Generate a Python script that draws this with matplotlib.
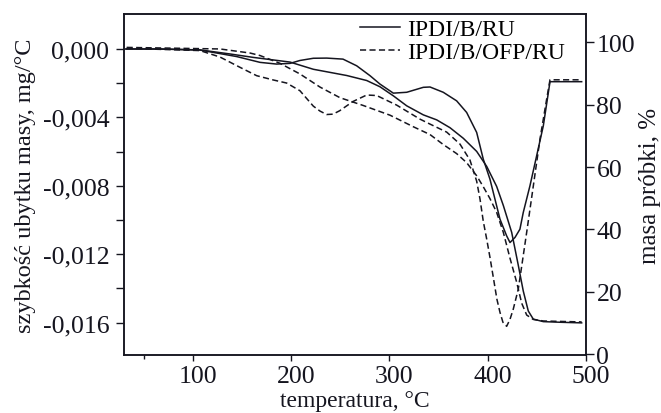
import numpy as np
import matplotlib
matplotlib.use("Agg")
import matplotlib.pyplot as plt
from matplotlib.transforms import ScaledTranslation

plt.rcParams['font.family'] = ['Liberation Serif', 'DejaVu Serif']
plt.rcParams['font.size'] = 18.5

# DTG, IPDI/B/RU (left axis, mg/°C)
t_dtg_a = [32.0, 66.6, 107.3, 144.6, 168.4, 185.3, 198.9, 209.0, 222.6, 236.2,
           252.8, 266.7, 280.3, 290.4, 304.0, 317.6, 334.5, 341.3, 354.8, 368.4,
           378.6, 388.8, 395.5, 402.3, 407.4, 412.5, 419.3, 422.7, 427.8, 432.8,
           436.2, 443.0, 449.8, 456.6, 463.4, 495.6]
dtg_a = [0.0, 0.0, -0.00006, -0.00044, -0.00078, -0.00088, -0.00084, -0.00067, -0.00054, -0.00053,
         -0.00059, -0.00098, -0.00156, -0.00205, -0.00258, -0.00253, -0.00224, -0.00222, -0.00253, -0.00303,
         -0.00371, -0.00488, -0.00644, -0.00761, -0.00878, -0.00995, -0.01093, -0.01132, -0.01102, -0.01054,
         -0.00956, -0.00800, -0.00625, -0.00449, -0.00191, -0.00191]

# DTG, IPDI/B/OFP/RU
t_dtg_b = [32.7, 107.3, 127.7, 148.0, 165.0, 181.9, 195.5, 209.0, 222.6, 229.4,
           236.2, 242.6, 249.4, 262.9, 276.9, 287.1, 307.4, 331.1, 341.3, 358.3,
           371.8, 382.0, 388.8, 392.2, 395.5, 399.0, 402.3, 405.7, 409.4, 412.5,
           415.5, 419.3, 422.7, 426.0, 431.1, 434.9, 439.7, 446.4, 453.2, 460.0,
           463.4, 495.6]
dtg_b = [0.00004, -0.00009, -0.00047, -0.00107, -0.00156, -0.00181, -0.00199, -0.00244, -0.00334, -0.00363,
         -0.00383, -0.00381, -0.00361, -0.00307, -0.00269, -0.00272, -0.00328, -0.00410, -0.00439, -0.00486,
         -0.00556, -0.00650, -0.00773, -0.00878, -0.01007, -0.01112, -0.01218, -0.01335, -0.01464, -0.01540,
         -0.01598, -0.01622, -0.01581, -0.01522, -0.01405, -0.01259, -0.01071, -0.00802, -0.00527, -0.00293,
         -0.00180, -0.00180]

# TG, IPDI/B/RU (right axis, %)
t_tg_a = [32.0, 66.6, 107.3, 137.8, 161.5, 198.9, 222.6, 256.6, 276.9, 290.4,
          304.0, 317.6, 334.5, 348.1, 361.6, 375.2, 388.8, 399.0, 409.1, 415.9,
          424.4, 431.1, 436.2, 441.3, 446.4, 456.6, 473.5, 495.6]
tg_a = [97.8, 97.8, 97.5, 96.2, 95.1, 93.6, 91.3, 89.3, 87.7, 85.7,
        82.8, 79.6, 76.7, 75.1, 72.6, 69.2, 65.0, 60.2, 53.8, 47.7,
        39.1, 28.6, 20.3, 13.9, 11.3, 10.5, 10.3, 10.1]

# TG, IPDI/B/OFP/RU
t_tg_b = [32.7, 127.7, 158.2, 168.4, 188.7, 209.0, 229.4, 249.7, 273.4, 300.6,
          324.3, 341.3, 354.8, 368.4, 378.6, 388.8, 395.5, 402.3, 409.1, 415.9,
          422.7, 429.5, 434.6, 439.7, 446.4, 456.6, 495.6]
tg_b = [98.3, 97.8, 96.5, 95.7, 93.2, 89.8, 85.6, 82.2, 79.7, 76.6,
        72.9, 70.4, 67.2, 64.3, 61.4, 57.2, 53.7, 49.9, 45.5, 39.1,
        30.8, 23.1, 16.4, 12.6, 11.2, 10.7, 10.4]

left_ticks = [-0.016, -0.014, -0.012, -0.010, -0.008, -0.006, -0.004, -0.002, 0.000]
left_labels = ['-0,016', '', '-0,012', '', '-0,008', '', '-0,004', '', '0,000']
right_ticks = [0, 20, 40, 60, 80, 100]
x_ticks = [100, 200, 300, 400, 500]

ink = '#15151f'
dash = (4, 2.2)

fig = plt.figure(figsize=(6.61, 4.14), dpi=100)
ax = fig.add_axes([0.1876, 0.140, 0.6989, 0.8238])
ax2 = ax.twinx()

ax.plot(t_dtg_a, dtg_a, color=ink, lw=1.1, label='IPDI/B/RU')
ax.plot(t_dtg_b, dtg_b, color=ink, lw=1.1, dashes=dash, label='IPDI/B/OFP/RU')
ax2.plot(t_tg_a, tg_a, color=ink, lw=1.1)
ax2.plot(t_tg_b, tg_b, color=ink, lw=1.1, dashes=dash)

ax.set_xlim(30, 500)
ax.set_ylim(-0.0179, 0.00205)
ax2.set_ylim(-0.2, 109.0)

ax.set_xticks(x_ticks)
ax.set_xticks([50], minor=True)
ax.set_yticks(left_ticks)
ax.set_yticklabels(left_labels)
ax2.set_yticks(right_ticks)

for s in list(ax.spines.values()) + list(ax2.spines.values()):
    s.set_linewidth(1.1)
    s.set_color(ink)

ax.tick_params(axis='x', which='major', direction='out', length=4, width=1, pad=3, colors=ink)
ax.tick_params(axis='x', which='minor', direction='out', length=3, width=1, colors=ink)
ax.tick_params(axis='y', direction='out', length=5.5, width=1, pad=5, colors=ink)
ax2.tick_params(axis='y', direction='out', length=6, width=1, pad=1.5, colors=ink)

# x tick labels sit a little right of their ticks in the original
shift = ScaledTranslation(5 / 100, 0, fig.dpi_scale_trans)
for lab in ax.get_xticklabels():
    lab.set_transform(lab.get_transform() + shift)

ax.set_xlabel('temperatura, °C', fontsize=17, labelpad=2, color=ink)
ax.set_ylabel('szybkość ubytku masy, mg/°C', fontsize=17.5, labelpad=5, color=ink)
ax2.set_ylabel('masa próbki, %', fontsize=18, labelpad=3, color=ink)

ax.legend(loc='upper right', bbox_to_anchor=(0.99, 1.035), frameon=False, fontsize=17,
          handlelength=1.7, handletextpad=0.3, labelspacing=0.05, borderpad=0.2)

fig.savefig('out.png', dpi=100)
